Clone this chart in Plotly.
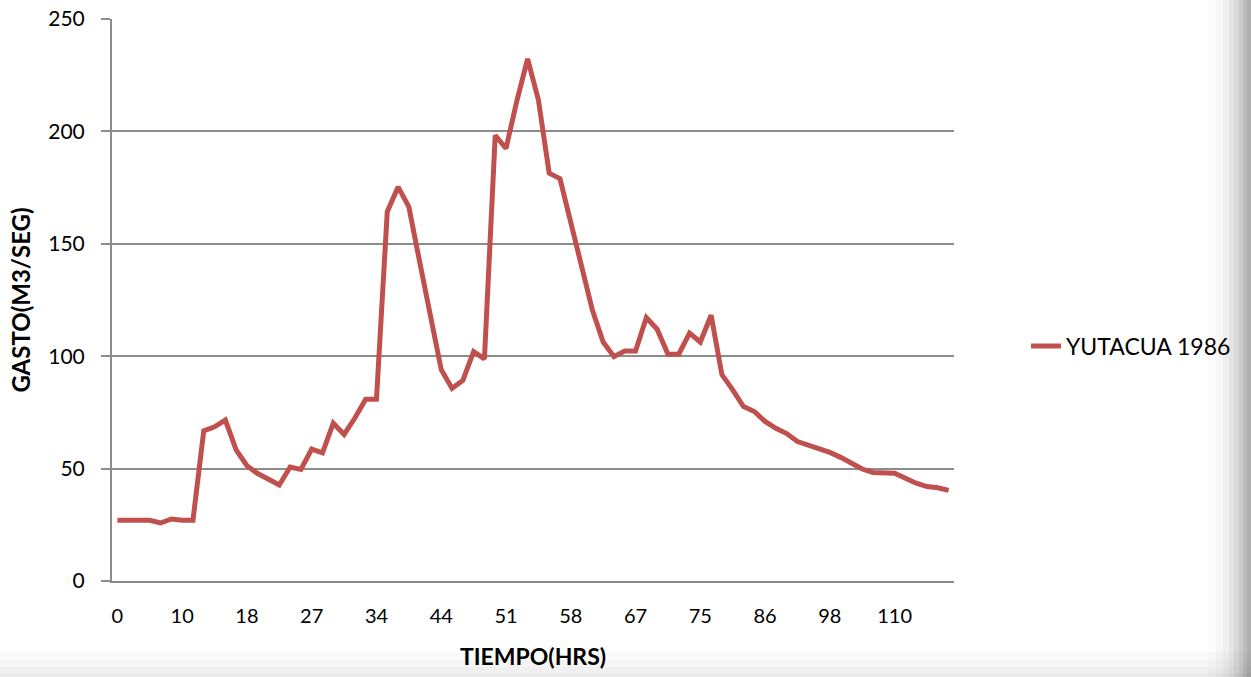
import plotly.graph_objects as go

# Category labels (hours) — every 6th label shown on the axis
tiempo_hrs = [
    0, 2, 3, 5, 7, 8,
    10, 11, 12, 14, 15, 17,
    18, 20, 21, 23, 24, 26,
    27, 28, 29, 30, 31, 33,
    34, 36, 37, 39, 41, 42,
    44, 45, 46, 47, 48, 50,
    51, 52, 53, 54, 55, 57,
    58, 60, 61, 63, 64, 66,
    67, 68, 70, 71, 72, 74,
    75, 77, 79, 81, 83, 84,
    86, 88, 90, 92, 94, 96,
    98, 100, 102, 104, 106, 108,
    110, 112, 114, 116, 118, 120,
]

gasto_yutacua_1986 = [
    27, 27, 27, 27, 25.8, 27.6,
    27, 27, 66.8, 68.6, 71.6, 58.3,
    51.3, 47.8, 45.3, 42.7, 50.7, 49.6,
    58.7, 57, 70.2, 65.2, 72.5, 80.8,
    80.8, 164.3, 175.3, 166.4, 142, 116.5,
    94, 85.7, 89.2, 102, 98.8, 198.2,
    192.4, 213.5, 232.3, 214, 181.4, 179,
    160, 140.5, 120.5, 106.3, 99.8, 102.3,
    102.3, 117.2, 112, 100.9, 100.9, 110.3,
    106.3, 118.2, 91.8, 85, 77.6, 75.4,
    71, 67.9, 65.6, 62, 60.4, 58.6,
    57.2, 55, 52.5, 49.8, 48.3, 48,
    47.9, 45.7, 43.5, 42, 41.5, 40.3,
]

y_ticks = [0, 50, 100, 150, 200, 250]

categories = [str(t) for t in tiempo_hrs]
shown_ticks = categories[::6]

FONT = "Lato"
GRID = "#8c8c8c"

fig = go.Figure()
fig.add_trace(go.Scatter(
    x=categories,
    y=gasto_yutacua_1986,
    mode="lines",
    name="YUTACUA 1986",
    line=dict(color="#C0504D", width=5),
))

W, H = 1251, 677
L, R, T, B = 112, 297, 19, 96
pw = W - L - R
ph = H - T - B

def px_x(px):
    return (px - L) / pw

def px_y(py):
    return (H - B - py) / ph

shapes = []
# bottom grey gradient (translucent layers stack)
for y0 in [652, 660, 667, 673]:
    shapes.append(dict(type="rect", xref="paper", yref="paper",
                       x0=px_x(-5), x1=px_x(W + 5), y0=px_y(H + 5), y1=px_y(y0),
                       fillcolor="rgba(0,0,0,0.018)", line=dict(width=0), layer="below"))
# right-edge grey gradient (translucent layers stack)
for x0, a in [(1208, 0.015), (1216, 0.02), (1223, 0.03), (1229, 0.04),
              (1234, 0.05), (1239, 0.06), (1243, 0.07), (1247, 0.07)]:
    shapes.append(dict(type="rect", xref="paper", yref="paper",
                       x0=px_x(x0), x1=px_x(W + 5), y0=px_y(H + 5), y1=px_y(-5),
                       fillcolor=f"rgba(0,0,0,{a})", line=dict(width=0), layer="below"))

fig.update_layout(
    width=W, height=H,
    margin=dict(l=L, r=R, t=T, b=B, pad=0, autoexpand=False),
    paper_bgcolor="white",
    plot_bgcolor="white",
    font=dict(family=FONT, size=20, color="#000000"),
    shapes=shapes,
    showlegend=True,
    legend=dict(
        x=px_x(1026), y=px_y(346), xanchor="left", yanchor="middle",
        font=dict(family=FONT, size=23, color="#000000"),
        bgcolor="rgba(0,0,0,0)",
    ),
    xaxis=dict(
        type="category",
        range=[-0.5, len(categories) - 0.5],
        tickmode="array",
        tickvals=shown_ticks,
        ticktext=shown_ticks,
        showgrid=False,
        showline=True,
        linecolor=GRID,
        linewidth=2,
        ticks="",
        ticklabelstandoff=16,
        tickfont=dict(family=FONT, size=20),
        title=dict(text="<b>TIEMPO(HRS)</b>", font=dict(family=FONT, size=23), standoff=23),
        automargin=False,
        zeroline=False,
    ),
    yaxis=dict(
        range=[0, 250],
        tickmode="array",
        tickvals=y_ticks,
        showgrid=True,
        gridcolor=GRID,
        gridwidth=1.5,
        showline=True,
        linecolor=GRID,
        linewidth=2,
        ticks="outside",
        ticklen=9,
        tickcolor=GRID,
        tickwidth=1.5,
        ticklabelstandoff=12,
        tickfont=dict(family=FONT, size=21),
        title=dict(text="<b>GASTO(M3/SEG)</b>", font=dict(family=FONT, size=24), standoff=11),
        automargin=False,
        zeroline=False,
    ),
)

fig.write_html(
    "out.html",
    config={"displayModeBar": False},
    post_script="document.body.style.margin='0';document.body.style.overflow='hidden';",
)
